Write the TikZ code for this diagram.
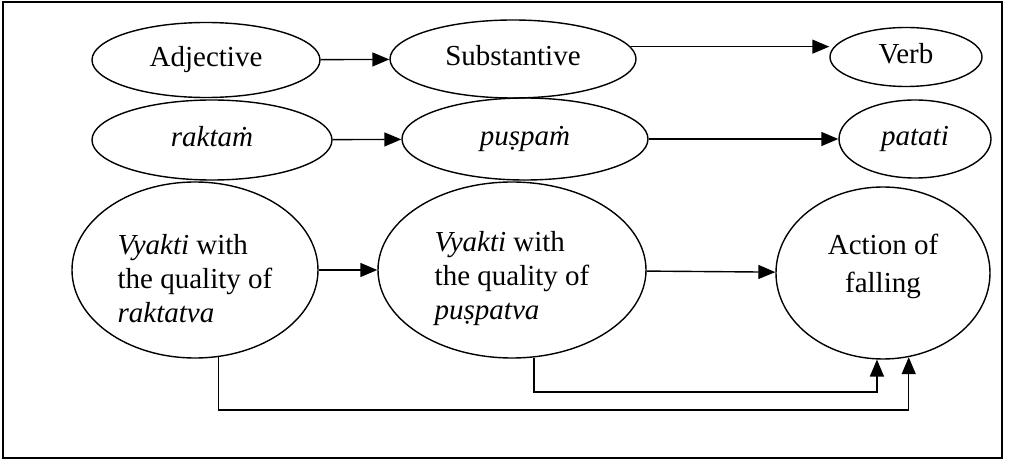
\documentclass[tikz,border=0pt]{standalone}
\usepackage{fontspec}
\setmainfont{Liberation Serif}
\usetikzlibrary{shapes.geometric, arrows.meta, calc}

\begin{document}
\begin{tikzpicture}[x=0.5pt, y=-0.5pt,
        line width=0.7pt,
        every node/.style={font=\fontsize{14.5}{17}\selectfont},
        oval/.style 2 args={draw, ellipse, inner sep=0pt, minimum width=#1pt, minimum height=#2pt, align=left},
        word/.style={text height=9.5pt, text depth=3pt},
        arrow/.style={-{Triangle[length=8.5pt, width=7pt]}}
      ]
    \useasboundingbox (0,0) rectangle (1014,460);
    \draw (3,2) rectangle (1002,458);

    \node[oval={114}{37.5}, word] (adj) at (206,60) {Adjective};
    \node[oval={123}{39}, word] (sub) at (513,59) {Substantive};
    \node[oval={76}{29.5}, word] (verb) at (906,57) {Verb};

    \node[oval={120}{40}, word] (rak) at (212,140) {\textit{raktaṁ}};
    \node[oval={123}{41}, word] (pus) at (525,139) {\textit{puṣpaṁ}};
    \node[oval={76}{39}, word] (pat) at (915,139) {\textit{patati}};

    \node[oval={123}{88}, text height=53pt] (vy1) at (195,270) {\textit{Vyakti} with\\the quality of\\\textit{raktatva}};
    \node[oval={134}{88}, text height=53pt] (vy2) at (512,270) {\textit{Vyakti} with\\the quality of\\\textit{puṣpatva}};
    \node[oval={107}{86}, align=center, text depth=10pt] (act) at (883,273) {Action of\\[2pt]falling};

    \coordinate (low1) at (act.-73 |- 0,410);
    \coordinate (low2) at (act.-94 |- 0,392);

    \draw[arrow] (adj) -- (sub);
    \draw[arrow] (sub.6) -- (sub.6 -| verb.west);
    \draw[arrow] (rak) -- (pus);
    \draw[arrow] (pus) -- (pat);
    \draw[arrow] (vy1) -- (vy2);
    \draw[arrow] (vy2) -- (act);
    \draw[arrow] (vy1.-75) |- (low1) -- (act.-73);
    \draw[arrow] (vy2.-76) |- (low2) -- (act.-94);

\end{tikzpicture}
\end{document}
